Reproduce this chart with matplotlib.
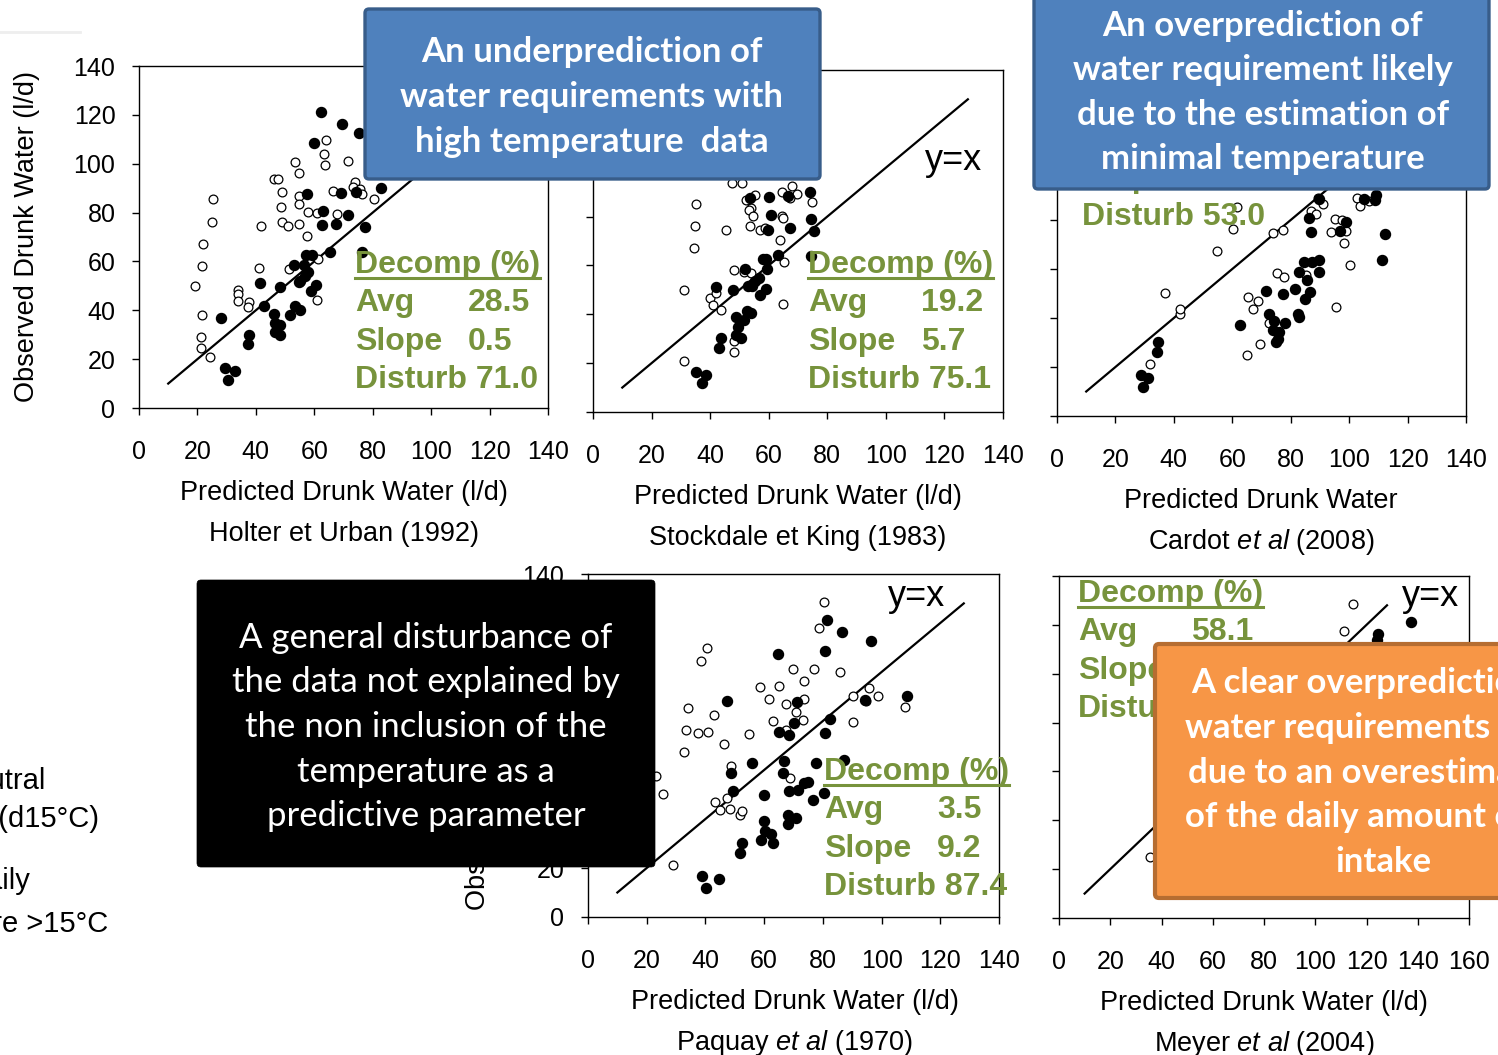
import matplotlib
matplotlib.use('Agg')
import matplotlib.pyplot as plt
from matplotlib.patches import FancyBboxPatch
from matplotlib.lines import Line2D
from matplotlib.transforms import IdentityTransform

W, H = 1498, 1055
PIX = IdentityTransform()

ARIAL = ['Liberation Sans', 'DejaVu Sans']
CALIBRI = ['Lato', 'DejaVu Sans']
GREEN = '#77933C'

plt.rcParams['font.family'] = ARIAL
plt.rcParams['mathtext.fontset'] = 'custom'
plt.rcParams['mathtext.rm'] = 'Liberation Sans'
plt.rcParams['mathtext.it'] = 'Liberation Sans:italic'

# ---- data (l/d): filled = warm days (>15°C), open = thermoneutral (<=15°C)
holter_warm_x = [62.2, 69.4, 75.4, 60.0, 82.8, 57.6, 69.2, 74.2, 63.0, 71.6, 62.7, 67.4, 77.3, 76.2,
                 57.3, 59.3, 65.4, 52.9, 56.5, 57.7, 56.7, 54.7, 55.1, 60.5, 58.8, 41.3, 48.1, 42.9,
                 53.5, 55.1, 46.3, 51.6, 28.0, 46.4, 48.2, 46.7, 48.1, 37.7, 37.4, 29.5, 32.9, 30.3]
holter_warm_y = [121.0, 116.3, 112.7, 108.4, 90.2, 87.6, 87.9, 88.5, 80.7, 79.2, 74.8, 75.4, 74.1, 63.7,
                 62.7, 62.7, 63.8, 58.7, 58.7, 55.6, 54.1, 51.4, 52.1, 50.4, 47.7, 51.0, 49.5, 41.6,
                 41.6, 40.2, 38.6, 37.9, 36.8, 34.8, 33.8, 31.3, 30.0, 29.9, 26.0, 16.4, 15.1, 11.4]
holter_cool_x = [64.0, 63.2, 63.8, 53.4, 71.4, 54.7, 46.1, 47.7, 74.1, 73.1, 75.5, 76.2, 66.5, 49.1,
                 80.5, 54.9, 54.9, 48.5, 57.8, 61.0, 67.9, 49.1, 51.0, 54.7, 41.6, 57.6, 25.5, 24.9,
                 22.0, 21.4, 19.3, 61.3, 51.2, 41.2, 34.0, 34.0, 33.9, 37.8, 37.4, 60.8, 21.4, 21.1,
                 21.2, 24.4]
holter_cool_y = [109.6, 104.0, 99.6, 100.9, 101.0, 96.2, 93.9, 93.9, 92.7, 90.4, 89.8, 87.6, 89.0, 88.6,
                 85.7, 86.7, 83.4, 82.3, 80.1, 80.0, 79.5, 76.1, 74.7, 75.4, 74.6, 70.5, 85.5, 76.2,
                 67.3, 58.1, 50.0, 61.1, 56.7, 57.2, 48.4, 46.5, 43.6, 43.3, 41.4, 44.2, 37.9, 29.0,
                 24.7, 21.0]

stockdale_warm_x = [74.2, 60.1, 66.5, 53.7, 74.6, 60.7, 67.3, 59.8, 75.6, 74.3, 63.2, 57.9, 59.0, 59.4,
                    51.9, 56.6, 55.4, 54.4, 52.9, 59.2, 42.0, 47.8, 57.1, 52.6, 53.8, 48.7, 51.4, 49.4,
                    48.9, 50.4, 43.6, 43.1, 35.3, 38.6, 37.1]
stockdale_warm_y = [90.1, 87.9, 88.3, 87.8, 79.2, 80.7, 75.5, 74.7, 74.2, 63.7, 64.1, 62.7, 62.7, 58.6,
                    58.6, 54.8, 53.6, 51.7, 51.4, 50.4, 51.0, 49.8, 47.7, 41.4, 40.4, 38.9, 37.8, 35.0,
                    31.5, 30.1, 30.1, 26.2, 16.5, 15.3, 11.7]
stockdale_cool_x = [68.0, 64.6, 69.5, 67.2, 47.6, 50.8, 55.4, 52.4, 74.7, 54.1, 53.3, 54.7, 64.5, 65.0,
                    35.1, 34.8, 34.5, 45.5, 53.5, 56.9, 58.7, 64.0, 65.2, 48.0, 51.6, 54.1, 31.1, 39.8,
                    42.1, 41.0, 43.6, 65.0, 48.0, 48.0, 31.0]
stockdale_cool_y = [92.7, 90.2, 89.3, 87.8, 93.9, 93.9, 88.7, 86.8, 85.9, 83.7, 82.5, 80.3, 80.3, 79.5,
                    85.3, 76.3, 67.3, 74.4, 76.1, 74.7, 75.5, 70.5, 61.3, 58.1, 57.4, 56.7, 50.0, 46.8,
                    48.7, 43.6, 41.7, 44.2, 28.9, 24.7, 21.0]

cardot_warm_x = [28.8, 31.1, 29.5, 34.1, 34.5, 62.8, 71.7, 72.5, 74.2, 73.9, 75.9, 75.6, 75.1, 77.3,
                 78.2, 81.6, 82.4, 82.7, 82.9, 84.4, 87.2, 89.8, 89.6, 84.9, 86.6, 85.7, 86.2, 87.1,
                 96.9, 99.0, 111.3, 112.4, 105.2, 108.9, 109.2, 89.6]
cardot_warm_y = [16.6, 15.4, 11.7, 26.1, 30.1, 37.0, 51.0, 41.6, 38.9, 35.0, 34.3, 31.6, 30.1, 49.7,
                 38.0, 51.8, 41.6, 40.3, 58.6, 62.7, 62.8, 63.8, 58.6, 47.8, 50.5, 55.4, 80.7, 75.0,
                 75.4, 79.2, 63.8, 74.1, 88.4, 88.0, 90.1, 88.4]
cardot_cool_x = [31.8, 37.1, 42.0, 42.2, 54.8, 60.3, 61.7, 73.8, 77.4, 65.4, 68.9, 67.1, 65.0, 69.4,
                 72.7, 75.2, 77.7, 85.2, 87.0, 88.6, 90.9, 89.4, 95.3, 93.8, 97.7, 98.8, 98.3, 100.4,
                 95.6, 102.6, 103.7, 106.9]
cardot_cool_y = [21.2, 50.2, 41.8, 43.5, 67.5, 76.3, 85.4, 74.6, 76.1, 48.7, 46.9, 43.7, 24.8, 29.3,
                 38.1, 58.2, 56.9, 57.5, 83.5, 82.3, 86.7, 89.0, 80.4, 75.0, 79.9, 75.4, 70.5, 61.5,
                 44.4, 89.0, 85.8, 87.7]

paquay_warm_x = [81.3, 86.6, 96.4, 80.7, 64.8, 47.3, 71.1, 94.5, 108.8, 70.0, 82.3, 65.0, 68.4, 80.6,
                 55.9, 66.7, 77.5, 87.2, 48.6, 66.4, 49.3, 59.8, 68.6, 71.7, 73.5, 75.1, 80.5, 76.7,
                 59.8, 68.0, 70.7, 68.0, 60.3, 62.2, 58.8, 63.1, 52.5, 51.7, 38.8, 44.7, 40.2]
paquay_warm_y = [121.2, 116.3, 112.8, 108.4, 107.3, 88.0, 87.8, 88.7, 90.3, 79.3, 80.8, 75.4, 74.2, 75.0,
                 62.8, 63.7, 62.9, 64.0, 58.7, 58.8, 51.3, 49.7, 51.3, 52.0, 54.5, 55.3, 50.7, 47.8,
                 39.0, 41.7, 40.6, 38.0, 35.1, 34.0, 31.6, 30.2, 30.1, 26.3, 16.6, 15.4, 11.7]
paquay_cool_x = [80.3, 78.8, 40.5, 38.6, 69.8, 77.0, 85.8, 73.5, 58.5, 65.2, 61.5, 73.5, 67.6, 70.8,
                 63.1, 73.3, 90.2, 95.8, 98.9, 94.7, 108.1, 90.3, 34.1, 42.8, 33.5, 37.4, 41.0, 32.7,
                 46.3, 54.9, 67.6, 48.6, 68.8, 23.2, 25.6, 43.2, 47.2, 45.1, 48.5, 51.8, 52.5, 28.9]
paquay_cool_y = [128.7, 117.8, 109.8, 104.3, 101.1, 101.2, 99.8, 96.4, 94.0, 94.3, 89.1, 88.9, 86.8, 83.5,
                 80.2, 80.4, 90.3, 93.6, 90.4, 88.0, 85.9, 79.5, 85.5, 82.4, 76.4, 74.9, 75.6, 67.5,
                 70.5, 74.6, 76.3, 61.6, 56.9, 57.5, 50.3, 47.0, 48.6, 43.6, 44.1, 41.7, 43.4, 21.2]

meyer_warm_x = [137.4, 124.5, 124.0]
meyer_warm_y = [121.2, 116.3, 113.7]
meyer_cool_x = [114.8, 111.4, 35.7]
meyer_cool_y = [128.6, 117.5, 24.8]

identity_line = [10, 128]

panel_titles = ['Holter et Urban (1992)', 'Stockdale et King (1983)', r'Cardot $\mathit{et\ al}$ (2008)',
                r'Paquay $\mathit{et\ al}$ (1970)', r'Meyer $\mathit{et\ al}$ (2004)']
panel_xlabels = ['Predicted Drunk Water (l/d)', 'Predicted Drunk Water (l/d)', 'Predicted Drunk Water',
                 'Predicted Drunk Water (l/d)', 'Predicted Drunk Water (l/d)']
decomp_avg = ['28.5', '19.2', None, '3.5', '58.1']
decomp_slope = ['0.5', '5.7', None, '9.2', None]
decomp_disturb = ['71.0', '75.1', '53.0', '87.4', None]

fig = plt.figure(figsize=(W / 100, H / 100), dpi=100)
fig.patch.set_facecolor('white')


def add_panel(left, top, right, bottom, wx, wy, cx, cy, xmax=140, ylabels=False):
    ax = fig.add_axes([left / W, 1 - bottom / H, (right - left) / W, (bottom - top) / H])
    ax.set_xlim(0, xmax)
    ax.set_ylim(0, 140)
    ax.set_xticks(range(0, xmax + 1, 20))
    ax.set_yticks(range(0, 141, 20))
    ax.tick_params(direction='out', length=5, width=1, labelsize=18, colors='black')
    ax.tick_params(axis='x', pad=18)
    ax.tick_params(axis='y', pad=12)
    if not ylabels:
        ax.set_yticklabels([])
    for s in ax.spines.values():
        s.set_linewidth(1)
    ax.plot(identity_line, identity_line, color='black', lw=1.6, zorder=2)
    ax.scatter(cx, cy, s=40, facecolors='white', edgecolors='black', linewidths=0.9, zorder=3)
    ax.scatter(wx, wy, s=52, color='black', zorder=4)
    return ax


add_panel(139, 66, 548, 408, holter_warm_x, holter_warm_y, holter_cool_x, holter_cool_y, ylabels=True)
add_panel(593, 70, 1003, 412, stockdale_warm_x, stockdale_warm_y, stockdale_cool_x, stockdale_cool_y)
add_panel(1057, 73, 1466, 416, cardot_warm_x, cardot_warm_y, cardot_cool_x, cardot_cool_y)
add_panel(588, 574, 999, 917, paquay_warm_x, paquay_warm_y, paquay_cool_x, paquay_cool_y, ylabels=True)
add_panel(1059, 576, 1469, 918, meyer_warm_x, meyer_warm_y, meyer_cool_x, meyer_cool_y, xmax=160)


def ptext(x, y, s, **kw):
    # x, y in pixels from the top-left corner
    return fig.text(x, H - y, s, transform=PIX, **kw)


# axis labels
label_pos = [(344, 500), (798, 504), (1261, 508), (795, 1009), (1264, 1010)]
for (x, y), lab, tit in zip(label_pos, panel_xlabels, panel_titles):
    ptext(x, y, lab, ha='center', va='baseline', fontsize=19.5)
    ptext(x, y + 41, tit, ha='center', va='baseline', fontsize=19.5)
ptext(27, 237, 'Observed Drunk Water (l/d)', rotation=90, ha='center', va='center', fontsize=19.5)
ptext(478, 744, 'Observed Drunk Water (l/d)', rotation=90, ha='center', va='center', fontsize=19.5)

# y=x labels
for x, y in [(925, 170), (888, 606), (1402, 606)]:
    ptext(x, y, 'y=x', ha='left', va='baseline', fontsize=26)

# green decomposition tables
renderer = fig.canvas.get_renderer()
stat_pos = [(355, 273), (808, 273), (1082, 110), (824, 780), (1078, 602)]
for (x0, b0), avg, slope, dist in zip(stat_pos, decomp_avg, decomp_slope, decomp_disturb):
    kw = dict(ha='left', va='baseline', fontsize=23, fontweight='bold', color=GREEN, zorder=3)
    t = ptext(x0, b0, 'Decomp (%)', **kw)
    bb = t.get_window_extent(renderer)
    fig.add_artist(Line2D([bb.x0, bb.x1], [H - b0 - 5, H - b0 - 5], transform=PIX, color=GREEN, lw=2.2, zorder=3))
    ptext(x0, b0 + 38, 'Avg', **kw)
    if avg:
        ptext(x0 + 113, b0 + 38, avg, **kw)
    ptext(x0, b0 + 77, 'Slope', **kw)
    if slope:
        ptext(x0 + 113, b0 + 77, slope, **kw)
    ptext(x0, b0 + 115, 'Disturb' + (' ' + dist if dist else ''), **kw)

# left legend fragments (cut by the slide edge)
for x, y, s in [(46, 789, 'Thermoneutral'), (99, 827, 'zone (d15°C)'), (31, 889, 'Daily'), (108, 932, 'temperature >15°C')]:
    ptext(x, y, s, ha='right', va='baseline', fontsize=21)
fig.add_artist(Line2D([0, 80], [H - 32, H - 32], transform=PIX, color='#eeeeee', lw=2))


def callout(x0, y0, x1, y1, face, edge, lw):
    box = FancyBboxPatch((x0, H - y1), x1 - x0, y1 - y0, boxstyle='round,pad=0,rounding_size=4',
                         transform=PIX, facecolor=face, edgecolor=edge, linewidth=lw, zorder=5)
    fig.add_artist(box)


callout(365, 9, 820, 179, '#4F81BD', '#385D8A', 2.4)
for i, s in enumerate(['An underprediction of', 'water requirements with', 'high temperature  data']):
    ptext(592, 62 + 45 * i, s, ha='center', va='baseline', fontsize=25, fontweight='bold',
          color='white', family=CALIBRI, zorder=6)

callout(1034, -10, 1489, 189, '#4F81BD', '#385D8A', 2.4)
for i, s in enumerate(['An overprediction of', 'water requirement likely', 'due to the estimation of',
                       'minimal temperature']):
    ptext(1263, 36 + 44.3 * i, s, ha='center', va='baseline', fontsize=25, fontweight='bold',
          color='white', family=CALIBRI, zorder=6)

callout(197, 580, 655, 867, 'black', 'black', 0.5)
for i, s in enumerate(['A general disturbance of', 'the data not explained by', 'the non inclusion of the',
                       'temperature as a', 'predictive parameter']):
    ptext(426, 648 + 44.5 * i, s, ha='center', va='baseline', fontsize=25,
          color='white', family=CALIBRI, zorder=6)

callout(1155, 644, 1620, 898, '#F79646', '#B66D31', 3)
for (x, s), i in zip([(1191, 'A clear overprediction of'), (1185, 'water requirements likely'),
                      (1188, 'due to an overestimation'), (1185, 'of the daily amount of'),
                      (1335, 'intake')], range(5)):
    ptext(x, 693 + 44.8 * i, s, ha='left', va='baseline', fontsize=25, fontweight='bold',
          color='white', family=CALIBRI, zorder=6)

fig.savefig('out.png', dpi=100)
